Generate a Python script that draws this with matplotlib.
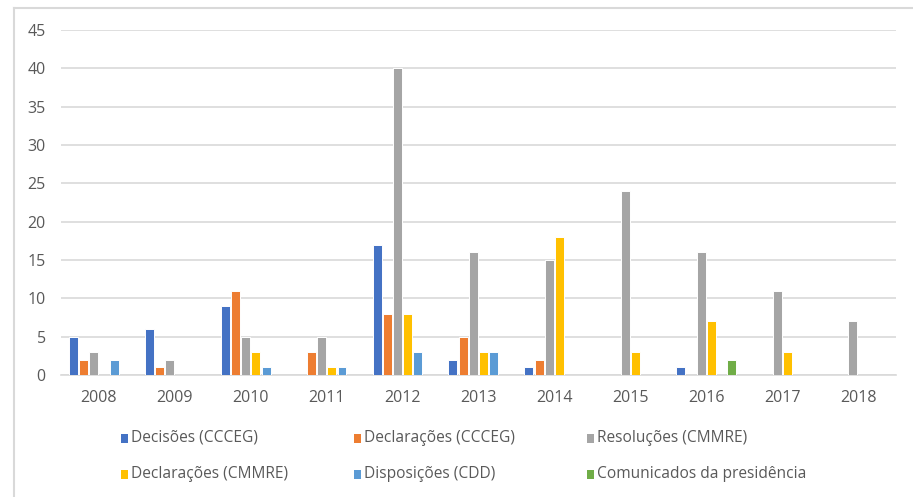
import numpy as np
import matplotlib.pyplot as plt
from matplotlib.lines import Line2D
from matplotlib.patches import Rectangle

years = ['2008', '2009', '2010', '2011', '2012', '2013', '2014', '2015', '2016', '2017', '2018']
series_names = ['Decisões (CCCEG)', 'Declarações (CCCEG)', 'Resoluções (CMMRE)',
                'Declarações (CMMRE)', 'Disposições (CDD)', 'Comunicados da presidência']
decisoes_ccceg = [5, 6, 9, 0, 17, 2, 1, 0, 1, 0, 0]
declaracoes_ccceg = [2, 1, 11, 3, 8, 5, 2, 0, 0, 0, 0]
resolucoes_cmmre = [3, 2, 5, 5, 40, 16, 15, 24, 16, 11, 7]
declaracoes_cmmre = [0, 0, 3, 1, 8, 3, 18, 3, 7, 3, 0]
disposicoes_cdd = [2, 0, 1, 1, 3, 3, 0, 0, 0, 0, 0]
comunicados = [0, 0, 0, 0, 0, 0, 0, 0, 2, 0, 0]
colors = ['#4472c4', '#ed7d31', '#a5a5a5', '#ffc000', '#5b9bd5', '#70ad47']

plt.rcParams['font.family'] = ['Open Sans', 'DejaVu Sans']

all_series = [decisoes_ccceg, declaracoes_ccceg, resolucoes_cmmre,
              declaracoes_cmmre, disposicoes_cdd, comunicados]

W, H = 913, 497
fig = plt.figure(figsize=(W / 100, H / 100), dpi=100)
ax = fig.add_axes([61 / W, 122 / H, 835 / W, 345 / H])

x = np.arange(len(years))
step = 0.1346
width = 0.118
for i, (vals, c) in enumerate(zip(all_series, colors)):
    offs = (i - 2.5) * step
    ax.bar(x + offs, vals, width=width, color=c, edgecolor='white', linewidth=0.7, zorder=3)

ax.set_xlim(-0.5, len(years) - 0.5)
ax.set_ylim(0, 45)
ax.set_yticks(range(0, 46, 5))
ax.set_xticks(x)
ax.set_xticklabels(years)
ax.grid(axis='y', color='#d9d9d9', linewidth=1.2, zorder=0)
for s in ['top', 'right', 'left']:
    ax.spines[s].set_visible(False)
ax.spines['bottom'].set_color('#d9d9d9')
ax.spines['bottom'].set_linewidth(1.2)
ax.tick_params(axis='both', length=0, colors='#595959', labelsize=11.5)
ax.tick_params(axis='x', pad=11)
ax.tick_params(axis='y', pad=11)

# legenda em 2 linhas x 3 colunas, desenhada à mão
for k, (name, c) in enumerate(zip(series_names, colors)):
    px = 121 + (k % 3) * 233
    py = 438 + (k // 3) * 36
    fig.add_artist(Rectangle((px / W, 1 - (py + 4.5) / H), 7 / W, 9 / H,
                             facecolor=c, edgecolor='none'))
    fig.text((px + 10) / W, 1 - py / H, name, va='center', ha='left',
             fontsize=11.2, color='#595959')

# moldura do gráfico (só topo e esquerda visíveis)
fig.add_artist(Line2D([14 / W, 1], [1 - 8 / H, 1 - 8 / H], color='#d9d9d9', lw=1.5))
fig.add_artist(Line2D([14 / W, 14 / W], [0, 1 - 8 / H], color='#d9d9d9', lw=1.5))

fig.savefig('out.png', dpi=100)
